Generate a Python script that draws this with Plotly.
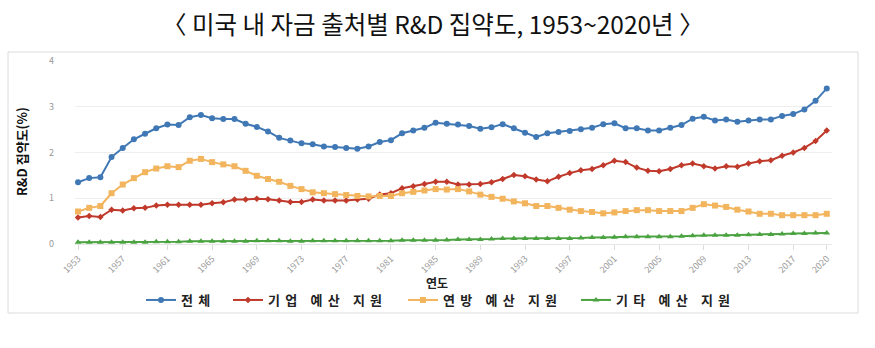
import plotly.graph_objects as go

years = list(range(1953, 2021))

total = [
    1.35, 1.44, 1.46, 1.90, 2.10, 2.29, 2.41, 2.53, 2.61, 2.60,   # 1953-1962
    2.77, 2.82, 2.75, 2.73, 2.73, 2.63, 2.56, 2.46, 2.32, 2.26,   # 1963-1972
    2.20, 2.18, 2.13, 2.12, 2.10, 2.08, 2.13, 2.23, 2.27, 2.42,   # 1973-1982
    2.48, 2.54, 2.65, 2.63, 2.61, 2.58, 2.52, 2.55, 2.62, 2.53,   # 1983-1992
    2.43, 2.34, 2.42, 2.45, 2.47, 2.51, 2.54, 2.62, 2.64, 2.53,   # 1993-2002
    2.53, 2.48, 2.48, 2.54, 2.60, 2.74, 2.78, 2.70, 2.72, 2.67,   # 2003-2012
    2.70, 2.72, 2.72, 2.80, 2.84, 2.94, 3.13, 3.40,               # 2013-2020
]

industry = [
    0.58, 0.61, 0.59, 0.75, 0.73, 0.78, 0.79, 0.84, 0.86, 0.86,
    0.86, 0.86, 0.89, 0.91, 0.97, 0.97, 0.99, 0.98, 0.95, 0.92,
    0.92, 0.97, 0.95, 0.95, 0.95, 0.97, 0.99, 1.08, 1.11, 1.22,
    1.26, 1.31, 1.36, 1.36, 1.30, 1.30, 1.31, 1.35, 1.42, 1.51,
    1.48, 1.41, 1.37, 1.47, 1.55, 1.61, 1.64, 1.72, 1.82, 1.79,
    1.67, 1.60, 1.59, 1.64, 1.72, 1.76, 1.70, 1.65, 1.70, 1.69,
    1.76, 1.81, 1.83, 1.93, 2.00, 2.10, 2.25, 2.48,
]

federal = [
    0.71, 0.79, 0.83, 1.11, 1.30, 1.44, 1.57, 1.65, 1.70, 1.68,
    1.82, 1.86, 1.79, 1.74, 1.70, 1.60, 1.49, 1.42, 1.36, 1.27,
    1.20, 1.13, 1.11, 1.09, 1.07, 1.05, 1.04, 1.05, 1.05, 1.11,
    1.14, 1.17, 1.20, 1.19, 1.20, 1.15, 1.08, 1.03, 0.99, 0.93,
    0.89, 0.83, 0.83, 0.79, 0.75, 0.72, 0.70, 0.67, 0.69, 0.72,
    0.74, 0.74, 0.72, 0.72, 0.72, 0.79, 0.87, 0.84, 0.81, 0.75,
    0.71, 0.66, 0.66, 0.63, 0.63, 0.63, 0.63, 0.66,
]

other = [
    0.04, 0.04, 0.04, 0.04, 0.04, 0.04, 0.04, 0.05, 0.05, 0.05,
    0.06, 0.06, 0.06, 0.06, 0.06, 0.06, 0.07, 0.07, 0.07, 0.06,
    0.06, 0.07, 0.07, 0.07, 0.07, 0.07, 0.07, 0.07, 0.07, 0.08,
    0.08, 0.08, 0.08, 0.09, 0.10, 0.10, 0.10, 0.11, 0.12, 0.12,
    0.12, 0.12, 0.12, 0.12, 0.12, 0.13, 0.14, 0.14, 0.15, 0.16,
    0.16, 0.16, 0.16, 0.16, 0.17, 0.18, 0.19, 0.19, 0.19, 0.19,
    0.20, 0.21, 0.21, 0.22, 0.23, 0.23, 0.24, 0.24,
]

series_names = ["전체", "기업 예산 지원", "연방 예산 지원", "기타 예산 지원"]
series_colors = ["#3f78b5", "#c0392b", "#f2b55e", "#4aa340"]
series_symbols = ["circle", "diamond", "square", "triangle-up"]
series_sizes = [6, 5, 6, 6]

tick_years = list(range(1953, 2018, 4)) + [2020]
tick_labels = [str(y) for y in tick_years]

title_text = "〈 미국 내 자금 출처별 R&D 집약도, 1953~2020년 〉"
y_title = "R&D 집약도(%)"
x_title = "연도"

W, H = 875, 348
L, R, T, B = 75, 43, 61, 104
pw = W - L - R
ph = H - T - B


def px_x(p):
    return (p - L) / pw


def px_y(p):
    return (H - B - p) / ph


legend_ids = ["legend", "legend2", "legend3", "legend4"]
legend_left_px = [141, 228, 403, 576]

fig = go.Figure()
for name, vals, col, sym, sz, lid in zip(series_names, [total, industry, federal, other],
                                         series_colors, series_symbols, series_sizes, legend_ids):
    fig.add_trace(go.Scatter(
        x=years, y=vals,
        name='<span style="letter-spacing:5.2px">' + name + '</span>',
        mode="lines+markers",
        line=dict(color=col, width=2),
        marker=dict(color=col, symbol=sym, size=sz),
        cliponaxis=False,
        legend=lid,
    ))

legend_common = dict(
    orientation="h", yanchor="middle", xanchor="left",
    font=dict(size=13, color="#222", family="Noto Sans CJK KR, sans-serif", weight="bold"),
    itemwidth=30, bgcolor="rgba(0,0,0,0)", borderwidth=0,
)
legend_layout = {}
for lid, lx in zip(legend_ids, legend_left_px):
    legend_layout[lid] = dict(legend_common, x=px_x(lx), y=px_y(300))

fig.update_layout(
    width=W, height=H,
    margin=dict(l=L, r=R, t=T, b=B, pad=0),
    paper_bgcolor="white", plot_bgcolor="white",
    font=dict(family="Noto Sans CJK KR, Liberation Sans, sans-serif", color="#333"),
    showlegend=True,
    xaxis=dict(
        range=[1952.73, 2020.47],
        tickmode="array", tickvals=tick_years, ticktext=tick_labels,
        tickangle=-45, tickfont=dict(size=9, color="#999"),
        ticks="outside", ticklen=5, tickcolor="#ddd",
        showgrid=False, showline=True, linecolor="#e6e6e6", linewidth=1,
        zeroline=False,
    ),
    yaxis=dict(
        range=[0, 4], tickvals=[0, 1, 2, 3, 4],
        tickfont=dict(size=9, color="#999"),
        showgrid=True, gridcolor="#eeeeee", gridwidth=1,
        zeroline=False, showline=False, ticks="",
        ticklabelstandoff=20,
    ),
    shapes=[dict(
        type="rect", xref="paper", yref="paper",
        x0=px_x(8), x1=px_x(858), y0=px_y(313), y1=px_y(52),
        line=dict(color="#dcdcdc", width=1), fillcolor="rgba(0,0,0,0)",
        layer="below",
    )],
    annotations=[
        dict(text=title_text, xref="paper", yref="paper",
             x=px_x(433), y=px_y(23), xanchor="center", yanchor="middle",
             showarrow=False,
             font=dict(size=24.5, color="#111", family="Noto Sans CJK KR, sans-serif")),
        dict(text=y_title, xref="paper", yref="paper",
             x=px_x(21), y=px_y(152), xanchor="center", yanchor="middle",
             textangle=-90, showarrow=False,
             font=dict(size=13, color="#111", family="Noto Sans CJK KR, sans-serif", weight="bold")),
        dict(text=x_title, xref="paper", yref="paper",
             x=px_x(437), y=px_y(282), xanchor="center", yanchor="middle",
             showarrow=False,
             font=dict(size=12, color="#222", family="Noto Sans CJK KR, sans-serif", weight="bold")),
    ],
)
fig.update_layout(**legend_layout)

fig.write_html("out.html")
